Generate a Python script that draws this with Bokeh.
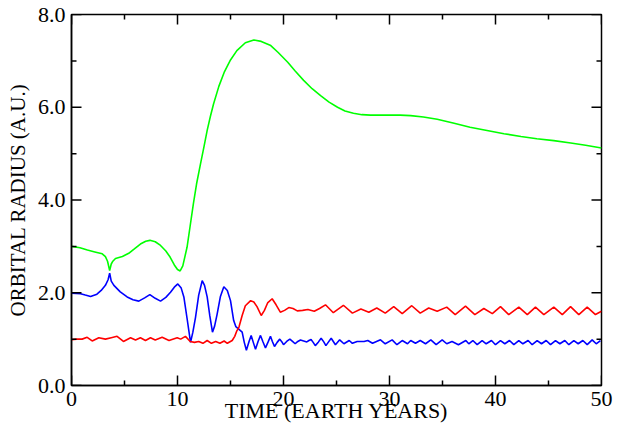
from bokeh.plotting import figure
from bokeh.models import Range1d, FixedTicker, PrintfTickFormatter
from bokeh.embed import file_html
from bokeh.resources import INLINE

# Green orbit
green_x = [0.0, 0.8, 1.5, 2.2, 2.9, 3.2, 3.4, 3.6, 3.75, 3.9, 4.15, 4.8, 5.4, 5.9, 6.5, 7.0, 7.4, 7.9,
           8.4, 8.9, 9.3, 9.7, 10.0, 10.25, 10.5, 10.9, 11.2, 11.5, 11.8, 12.17, 12.5, 12.8, 13.1, 13.4,
           13.9, 14.4, 15.0, 15.6, 16.4, 17.2, 17.9, 18.8, 19.5, 20.4, 21.1, 21.9, 22.7, 23.5, 24.3,
           25.1, 25.8, 26.6, 27.4, 28.2, 29.0, 30.0, 31.0, 32.0, 33.2, 34.5, 36.0, 37.6, 39.2, 40.8,
           42.4, 43.9, 45.5, 47.1, 48.5, 50.0]
green_y = [3.00, 2.97, 2.92, 2.88, 2.84, 2.78, 2.68, 2.48, 2.62, 2.68, 2.74, 2.78, 2.85, 2.94, 3.05, 3.11, 3.13, 3.10,
           3.02, 2.90, 2.77, 2.60, 2.50, 2.47, 2.58, 2.98, 3.45, 3.92, 4.35, 4.78, 5.15, 5.50, 5.80, 6.07,
           6.45, 6.75, 7.02, 7.22, 7.39, 7.45, 7.42, 7.33, 7.18, 6.97, 6.78, 6.58, 6.40, 6.25, 6.11,
           6.00, 5.92, 5.87, 5.84, 5.83, 5.83, 5.83, 5.83, 5.82, 5.79, 5.74, 5.66, 5.57, 5.50, 5.43,
           5.37, 5.32, 5.28, 5.23, 5.18, 5.12]

# Blue orbit
blue_x = [0.0, 0.85, 1.3, 1.8, 2.4, 2.8, 3.2, 3.45, 3.6, 3.75, 4.0, 4.6, 5.25, 5.8, 6.35, 6.9, 7.39, 7.9,
          8.4, 8.9, 9.34, 9.7, 10.03, 10.35, 10.6, 10.9, 11.23, 11.45, 11.7, 12.0, 12.33, 12.55, 12.8,
          13.05, 13.3, 13.5, 13.74, 14.05, 14.37, 14.7, 15.0, 15.3, 15.5, 15.75, 16.1, 16.3, 16.5, 16.75,
          16.95, 17.15, 17.36, 17.6, 17.83, 18.05, 18.3, 18.55, 18.77, 18.95, 19.15, 19.4, 19.65, 19.85,
          20.0, 20.3, 20.6, 20.85, 21.1, 21.35, 21.6, 21.9, 22.2, 22.4, 22.6, 22.8, 23.0, 23.3, 23.55,
          23.8, 24.0, 24.25, 24.5, 24.9, 25.3, 25.7, 26.2, 26.5, 26.95, 27.6, 27.95, 28.4, 29.15, 29.6,
          30.25, 30.7, 31.2, 31.7, 32.0, 32.45, 32.9, 33.4, 33.9, 34.4, 34.97, 35.4, 35.9, 36.5, 37.2,
          37.48, 37.86, 38.27, 38.74, 39.12, 39.62, 40.0, 40.47, 40.88, 41.32, 41.73, 42.2, 42.58,
          43.08, 43.46, 43.93, 44.34, 44.78, 45.19, 45.66, 46.07, 46.54, 46.92, 47.39, 47.8, 48.24,
          48.65, 49.12, 49.5, 49.9]
blue_y = [1.99, 1.98, 1.95, 1.92, 1.97, 2.05, 2.16, 2.28, 2.42, 2.25, 2.16, 2.02, 1.91, 1.85, 1.82, 1.89, 1.96, 1.88,
          1.82, 1.90, 2.01, 2.12, 2.19, 2.10, 1.91, 1.45, 0.93, 1.15, 1.47, 1.95, 2.26, 2.16, 1.91,
          1.50, 1.15, 1.28, 1.54, 1.92, 2.13, 2.05, 1.83, 1.40, 1.27, 1.22, 1.15, 0.93, 0.76, 0.95,
          1.08, 0.93, 0.78, 0.95, 1.08, 0.95, 0.81, 0.94, 1.06, 0.95, 0.84, 0.93, 1.00, 0.94,
          0.88, 0.95, 1.00, 0.95, 0.90, 0.95, 0.98, 0.96, 0.94, 0.97, 0.99, 0.93, 0.86, 0.94, 1.02,
          0.94, 0.86, 0.94, 1.02, 0.88, 0.985, 0.90, 0.97, 0.91, 0.95, 0.95, 0.97, 0.91, 0.985, 0.90,
          0.985, 0.88, 0.97, 0.90, 0.97, 0.91, 0.97, 0.90, 0.985, 0.88, 0.985, 0.90, 0.95, 0.88, 0.97,
          0.90, 0.97, 0.88, 0.97, 0.90, 0.97, 0.88, 0.97, 0.90, 0.97, 0.88, 0.97, 0.90,
          0.97, 0.88, 0.97, 0.90, 0.97, 0.88, 0.97, 0.90, 0.97, 0.88, 0.97, 0.90, 0.97,
          0.88, 0.985, 0.90, 0.97]

# Red orbit
red_x = [0.0, 0.5, 1.0, 1.48, 1.95, 2.58, 3.2, 3.75, 4.3, 4.9, 5.57, 6.04, 6.5, 6.98, 7.45, 7.9, 8.55,
         9.2, 9.97, 10.3, 10.75, 11.2, 11.6, 12.0, 12.4, 12.8, 13.2, 13.6, 14.0, 14.4, 14.7, 15.16,
         15.4, 15.6, 15.8, 16.1, 16.4, 16.9, 17.2, 17.5, 17.9, 18.2, 18.5, 18.93, 19.3, 19.7, 20.1,
         20.5, 20.9, 21.3, 21.8, 22.3, 22.9, 23.4, 23.96, 24.7, 25.65, 26.5, 27.3, 28.05, 28.8, 29.6,
         30.4, 31.2, 32.1, 32.9, 33.7, 34.5, 35.4, 36.2, 37.17, 38.05, 38.9, 39.7, 40.47, 41.25, 42.2,
         43.0, 43.77, 44.56, 45.5, 46.3, 47.08, 47.86, 48.65, 49.43, 50.0]
red_y = [0.99, 1.00, 1.00, 1.04, 0.96, 1.03, 1.00, 1.03, 1.06, 0.95, 1.03, 0.98, 1.03, 0.97, 1.03, 0.98, 1.04,
         0.97, 1.03, 1.00, 1.06, 0.95, 0.93, 0.95, 0.91, 0.97, 0.91, 0.95, 0.91, 0.96, 0.91, 0.97,
         1.06, 1.18, 1.26, 1.51, 1.72, 1.83, 1.80, 1.70, 1.51, 1.62, 1.78, 1.87, 1.74, 1.58, 1.62,
         1.68, 1.66, 1.61, 1.62, 1.64, 1.60, 1.66, 1.74, 1.57, 1.73, 1.56, 1.65, 1.58, 1.67, 1.56,
         1.70, 1.55, 1.72, 1.56, 1.67, 1.60, 1.69, 1.53, 1.71, 1.53, 1.66, 1.55, 1.70, 1.53, 1.69,
         1.53, 1.69, 1.53, 1.69, 1.53, 1.70, 1.53, 1.69, 1.53, 1.60]

x_ticks = [0, 10, 20, 30, 40, 50]
x_minor = [5, 15, 25, 35, 45]
y_ticks = [0, 2, 4, 6, 8]
y_minor = [1, 3, 5, 7]

FONT = "Liberation Serif"
X0, X1, Y0, Y1 = 0, 50, 0, 8
W, H = 630, 432
BL, BR, BT, BB = 71, 29, 14, 47
MAJ, MIN = 10, 5        # inward tick lengths in pixels
TW = 1.5                # tick thickness in pixels

p = figure(width=W, height=H, output_backend="svg", toolbar_location=None,
           x_range=Range1d(X0, X1), y_range=Range1d(Y0, Y1),
           min_border_left=BL, min_border_right=BR, min_border_top=BT, min_border_bottom=BB)
p.xgrid.visible = False
p.ygrid.visible = False
p.outline_line_color = "black"
p.outline_line_width = 1.5
p.outline_line_alpha = 1.0
p.background_fill_color = "white"
p.border_fill_color = "white"

p.line(green_x, green_y, line_color="#00ff00", line_width=1.6)
p.line(blue_x, blue_y, line_color="#0000ff", line_width=1.6)
p.line(red_x, red_y, line_color="#ff0000", line_width=1.6)

# inward ticks: filled bars centred on each frame edge (the outer half is clipped by the frame)
for ticks, ln in ((x_ticks, MAJ), (x_minor, MIN)):
    n = len(ticks)
    for edge in (Y0, Y1):
        p.rect(x=ticks, y=[edge] * n, width=TW, height=2 * ln,
               width_units="screen", height_units="screen",
               fill_color="black", line_color=None)
for ticks, ln in ((y_ticks, MAJ), (y_minor, MIN)):
    n = len(ticks)
    for edge in (X0, X1):
        p.rect(x=[edge] * n, y=ticks, width=2 * ln, height=TW,
               width_units="screen", height_units="screen",
               fill_color="black", line_color=None)

def style(ax, ticker):
    ax.ticker = ticker
    ax.axis_line_color = "black"
    ax.axis_line_width = 1.5
    ax.major_tick_in = 0
    ax.major_tick_out = 0
    ax.minor_tick_in = 0
    ax.minor_tick_out = 0
    ax.major_label_text_font = FONT
    ax.major_label_text_font_size = "22px"
    ax.major_label_text_color = "black"
    ax.axis_label_text_font = FONT
    ax.axis_label_text_font_style = "normal"
    ax.axis_label_text_color = "black"

style(p.xaxis[0], FixedTicker(ticks=x_ticks, minor_ticks=x_minor))
style(p.yaxis[0], FixedTicker(ticks=y_ticks, minor_ticks=y_minor))
p.xaxis[0].axis_label = "TIME (EARTH YEARS)"
p.yaxis[0].axis_label = "ORBITAL RADIUS (A.U.)"
p.xaxis[0].axis_label_text_font_size = "22px"
p.yaxis[0].axis_label_text_font_size = "21px"
p.yaxis[0].formatter = PrintfTickFormatter(format="%.1f")
p.xaxis[0].major_label_standoff = 6
p.xaxis[0].axis_label_standoff = -11
p.yaxis[0].major_label_standoff = 6
p.yaxis[0].axis_label_standoff = 5

open("out.html", "w").write(file_html(p, INLINE))
